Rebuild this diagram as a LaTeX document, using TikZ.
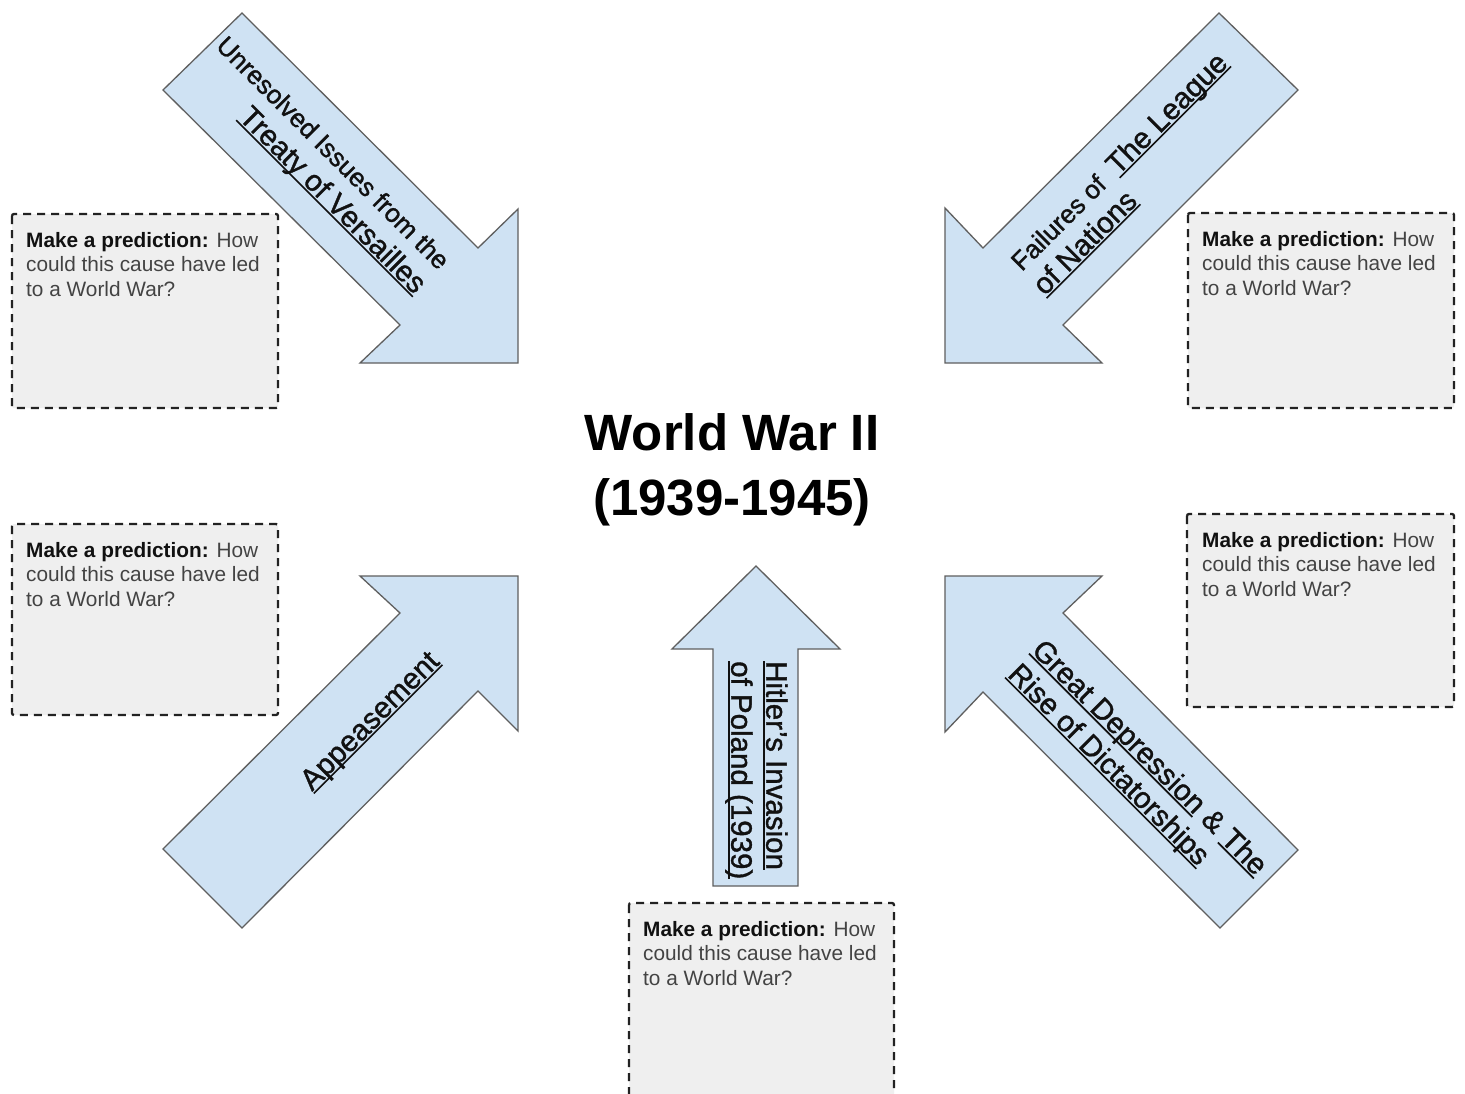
\documentclass[tikz,border=0pt]{standalone}
\usepackage{fontspec}
\setmainfont{Liberation Sans}
\newfontfamily\labelfont[FakeBold=1.2]{Liberation Sans}
\definecolor{arrowfill}{HTML}{CFE2F3}
\definecolor{arrowline}{HTML}{5F5F5F}
\definecolor{boxfill}{HTML}{EFEFEF}
\definecolor{boxline}{HTML}{222222}
\definecolor{boxtext}{HTML}{434343}
\definecolor{labeltext}{HTML}{111111}
\newsavebox\ulbox
\newcommand{\myul}[1]{\sbox\ulbox{#1}\rlap{\rule[-0.11em]{\wd\ulbox}{0.055em}}\usebox\ulbox}
\newcommand{\predcontent}{\parbox[t]{250pt}{\raggedright\leavevmode{\bfseries\color{labeltext}Make a prediction:} How\\could this cause have led\\to a World War?}}
\begin{document}
\begin{tikzpicture}[x=1pt,y=-1pt,
  bigarrow/.style={fill=arrowfill, draw=arrowline, line width=1.3pt, line join=miter},
  predbox/.style={fill=boxfill, draw=boxline, line width=2.3pt, dash pattern=on 8pt off 6pt, rounded corners=2pt},
  predtext/.style={anchor=base west, inner sep=0pt, font=\fontsize{20.8}{24.5}\selectfont, text=boxtext},
  arrowtext/.style={inner sep=0pt, text=labeltext, font=\labelfont\fontsize{29.5}{34}\selectfont},
  smalltext/.style={inner sep=0pt, text=labeltext, font=\labelfont\fontsize{26}{30}\selectfont},
  titletext/.style={inner sep=0pt, anchor=base, text=black, font=\fontsize{51}{65}\selectfont\bfseries}
]
\path[use as bounding box] (0,0) rectangle (1465,1093);
\clip (0,0) rectangle (1465,1093);
\fill[white] (0,0) rectangle (1465,1093);

% arrows
\path[bigarrow] (242,13) -- (478,248) -- (518,209) -- (518,363) -- (360,363) -- (400,325) -- (163,90) -- cycle;
\path[bigarrow] (1219,13) -- (1298,90) -- (1063,325) -- (1102,363) -- (945,363) -- (945,208) -- (983,248) -- cycle;
\path[bigarrow] (518,576) -- (518,731) -- (478,691) -- (242,928) -- (163,849) -- (400,613) -- (360,576) -- cycle;
\path[bigarrow] (945,576) -- (1102,576) -- (1063,613) -- (1298,850) -- (1220,928) -- (983,692) -- (945,732) -- cycle;
\path[bigarrow] (756,566) -- (840,649) -- (798,649) -- (798,886) -- (713,886) -- (713,649) -- (672,649) -- cycle;

% arrow labels
\node[smalltext, rotate=-45, anchor=base east] (a1l1) at (438.8,271.2) {Unresolved Issues from the};
\node[arrowtext, rotate=-45, anchor=base east] (a1l2) at (414.7,295.2) {\myul{Treaty of Versailles}};
\node[arrowtext, rotate=45, anchor=base west] (a2l1) at (1021.8,272.2) {{\fontsize{26}{30}\selectfont Failures of~~}\myul{The League}};
\node[arrowtext, rotate=45, anchor=base west] (a2l2) at (1044.7,296.6) {\myul{of Nations}};
\node[arrowtext, rotate=45, anchor=base west] (a3) at (311.9,791.9) {\myul{Appeasement}};
\node[arrowtext, rotate=-45, anchor=base west] (a4l1) at (1030.5,651.7) {\myul{Great Depression} \& \myul{The}};
\node[arrowtext, rotate=-45, anchor=base west] (a4l2) at (1006.6,675.6) {\myul{Rise of Dictatorships}};
\node[arrowtext, rotate=-90, anchor=base west] (a5l1) at (766.3,661) {\myul{Hitler’s Invasion}};
\node[arrowtext, rotate=-90, anchor=base west] (a5l2) at (731.3,661) {\myul{of Poland (1939)}};

% title
\node[titletext] (t1) at (732,450) {World War II};
\node[titletext] (t2) at (732,515) {(1939-1945)};

% prediction boxes
\path[predbox] (12,214) rectangle (278,408);
\path[predbox] (12,524) rectangle (278,715);
\path[predbox] (1188,213) rectangle (1454,408);
\path[predbox] (1187,514) rectangle (1454,707);
\path[predbox] (629,903) rectangle (894,1110);
\node[predtext] (p1) at (26,247) {\predcontent};
\node[predtext] (p2) at (26,557) {\predcontent};
\node[predtext] (p3) at (1202,246) {\predcontent};
\node[predtext] (p4) at (1202,547) {\predcontent};
\node[predtext] (p5) at (643,936) {\predcontent};
\end{tikzpicture}
\end{document}
